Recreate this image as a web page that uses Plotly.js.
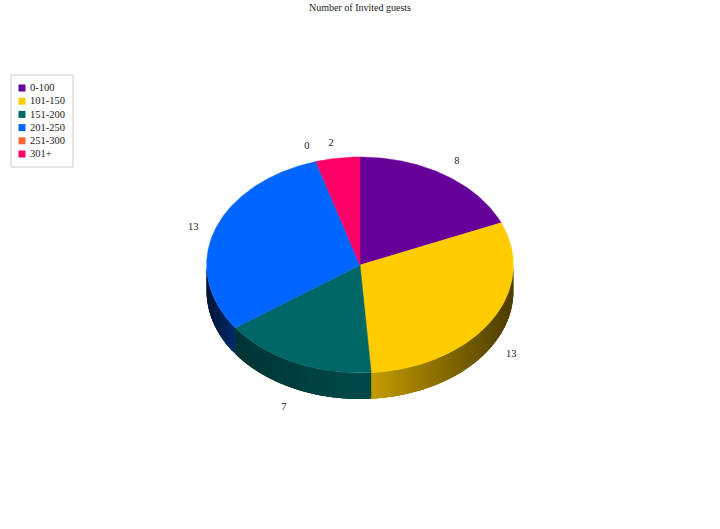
<!DOCTYPE html>
<html>
<head>
<meta charset="utf-8">
<script src="https://cdn.plot.ly/plotly-3.0.1.min.js"></script>
<style>html,body{margin:0;padding:0;background:#fff}#chart{width:720px;height:529px}</style>
</head>
<body>
<div id="chart"></div>
<script>
// Data
var categories = ["0-100", "101-150", "151-200", "201-250", "251-300", "301+"];
var guests = [8, 13, 7, 13, 0, 2];
var colors = ["#660099", "#FFCC00", "#006666", "#0066FF", "#FF6633", "#FF0066"];
var chartTitle = "Number of Invited guests";

// Pie geometry (in the pixel-sized axis space)
var cx = 360, cy = 265, rx = 153.4, ry = 108, depth = 26;
var labelNudgeX = [-1, 0, -1, 1, -2, -3];
var labelNudgeY = [-1, -3, 3, 2, -1, 0];
var FONT = "Liberation Serif";
var total = guests.reduce(function (a, b) { return a + b; }, 0);

function px(t) { return cx + rx * Math.sin(t); }
function py(t) { return cy - ry * Math.cos(t); }
function shade(hex, f) {
  var n = parseInt(hex.slice(1), 16);
  var r = (n >> 16) & 255, g = (n >> 8) & 255, b = n & 255;
  return "rgb(" + Math.round(r * f) + "," + Math.round(g * f) + "," + Math.round(b * f) + ")";
}
// Wall brightness: right-hand slices fade towards the rim, left-hand ones are darker overall
function wallFactor(off, leftSide) {
  if (!leftSide) return 0.8 - 0.5 * off;
  if (off < 0.81) return 0.72 - 0.25 * off;
  return 0.42 - 1.2 * (off - 0.82);
}

var traces = [];
var cum = 0, slices = [];
guests.forEach(function (v, i) {
  var a0 = cum / total * 2 * Math.PI;
  cum += v;
  var a1 = cum / total * 2 * Math.PI;
  slices.push({ a0: a0, a1: a1, color: colors[i], value: v, name: categories[i] });
});

// Side wall: each strip overlaps the next, which paints over it, so no gaps show
var STEP = Math.PI / 180;
var WALL = STEP * 0.75;
slices.forEach(function (s) {
  var start = Math.max(s.a0, Math.PI / 2), end = Math.min(s.a1, 3 * Math.PI / 2);
  if (end <= start) return;
  var leftSide = (s.a0 + s.a1) / 2 > Math.PI;
  var steps = Math.ceil((end - start) / WALL);
  for (var k = 0; k < steps; k++) {
    var t = start + k * (end - start) / steps;
    var mid = t + WALL / 2;
    var c = shade(s.color, wallFactor(Math.abs(Math.sin(mid)), leftSide));
    var xs = [], ys = [], j, tt;
    var t2 = Math.min(t + 3 * WALL, end);
    for (j = 0; j <= 3; j++) { tt = t + (t2 - t) * j / 3; xs.push(px(tt)); ys.push(py(tt)); }
    for (j = 3; j >= 0; j--) { tt = t + (t2 - t) * j / 3; xs.push(px(tt)); ys.push(py(tt) + depth); }
    xs.push(xs[0]); ys.push(ys[0]);
    traces.push({
      type: "scatter", mode: "lines", fill: "toself", fillcolor: c,
      x: xs, y: ys,
      line: { color: c, width: 0 }, hoverinfo: "skip", showlegend: false
    });
  }
});

// Top face
slices.forEach(function (s) {
  if (s.value === 0) return;
  var xs = [cx], ys = [cy];
  for (var t = s.a0; t < s.a1; t += STEP / 2) { xs.push(px(t)); ys.push(py(t)); }
  xs.push(px(s.a1), cx); ys.push(py(s.a1), cy);
  traces.push({
    type: "scatter", mode: "lines", fill: "toself", fillcolor: s.color,
    x: xs, y: ys, line: { color: s.color, width: 0.5 },
    name: s.name, text: String(s.value), hoverinfo: "name+text", showlegend: false
  });
});

// Value labels outside the rim
var LX = 1.155, LY = 1.14;
traces.push({
  type: "scatter", mode: "text", hoverinfo: "skip", showlegend: false,
  x: slices.map(function (s, i) { return cx + LX * rx * Math.sin((s.a0 + s.a1) / 2) + labelNudgeX[i]; }),
  y: slices.map(function (s, i) {
    var m = (s.a0 + s.a1) / 2, c = Math.cos(m);
    return cy - LY * ry * c + (c < 0 ? depth + 2 : 0) + labelNudgeY[i];
  }),
  text: guests.map(String),
  textposition: "middle center",
  textfont: { family: FONT, size: 10.5, color: "#222222" }
});

// Legend column
var LEG_X = 22, LEG_TEXT_X = 30, LEG_Y = 88, LEG_DY = 13.2;
traces.push({
  type: "scatter", mode: "markers", hoverinfo: "skip", showlegend: false,
  x: categories.map(function () { return LEG_X; }),
  y: categories.map(function (c, i) { return LEG_Y + i * LEG_DY; }),
  marker: { symbol: "square", size: 7, color: colors, line: { width: 0 } }
});
traces.push({
  type: "scatter", mode: "text", hoverinfo: "skip", showlegend: false,
  x: categories.map(function () { return LEG_TEXT_X; }),
  y: categories.map(function (c, i) { return LEG_Y + 0.6 + i * LEG_DY; }),
  text: categories,
  textposition: "middle right",
  textfont: { family: FONT, size: 10.5, color: "#222222" }
});

var layout = {
  width: 720, height: 529,
  margin: { l: 0, r: 0, t: 0, b: 0 },
  paper_bgcolor: "#ffffff", plot_bgcolor: "#ffffff",
  showlegend: false,
  xaxis: { range: [0, 720], visible: false, fixedrange: true },
  yaxis: { range: [529, 0], visible: false, fixedrange: true },
  title: { text: chartTitle, x: 360 / 720, xanchor: "center", y: 1 - 7 / 529, yanchor: "middle",
           font: { family: FONT, size: 10, color: "#222222" } },
  shapes: [{ type: "rect", xref: "x", yref: "y", x0: 11, x1: 73, y0: 75, y1: 167,
             line: { color: "#cccccc", width: 1 }, fillcolor: "#ffffff", layer: "below" }]
};
Plotly.newPlot("chart", traces, layout, { displayModeBar: false });
</script>
</body>
</html>
